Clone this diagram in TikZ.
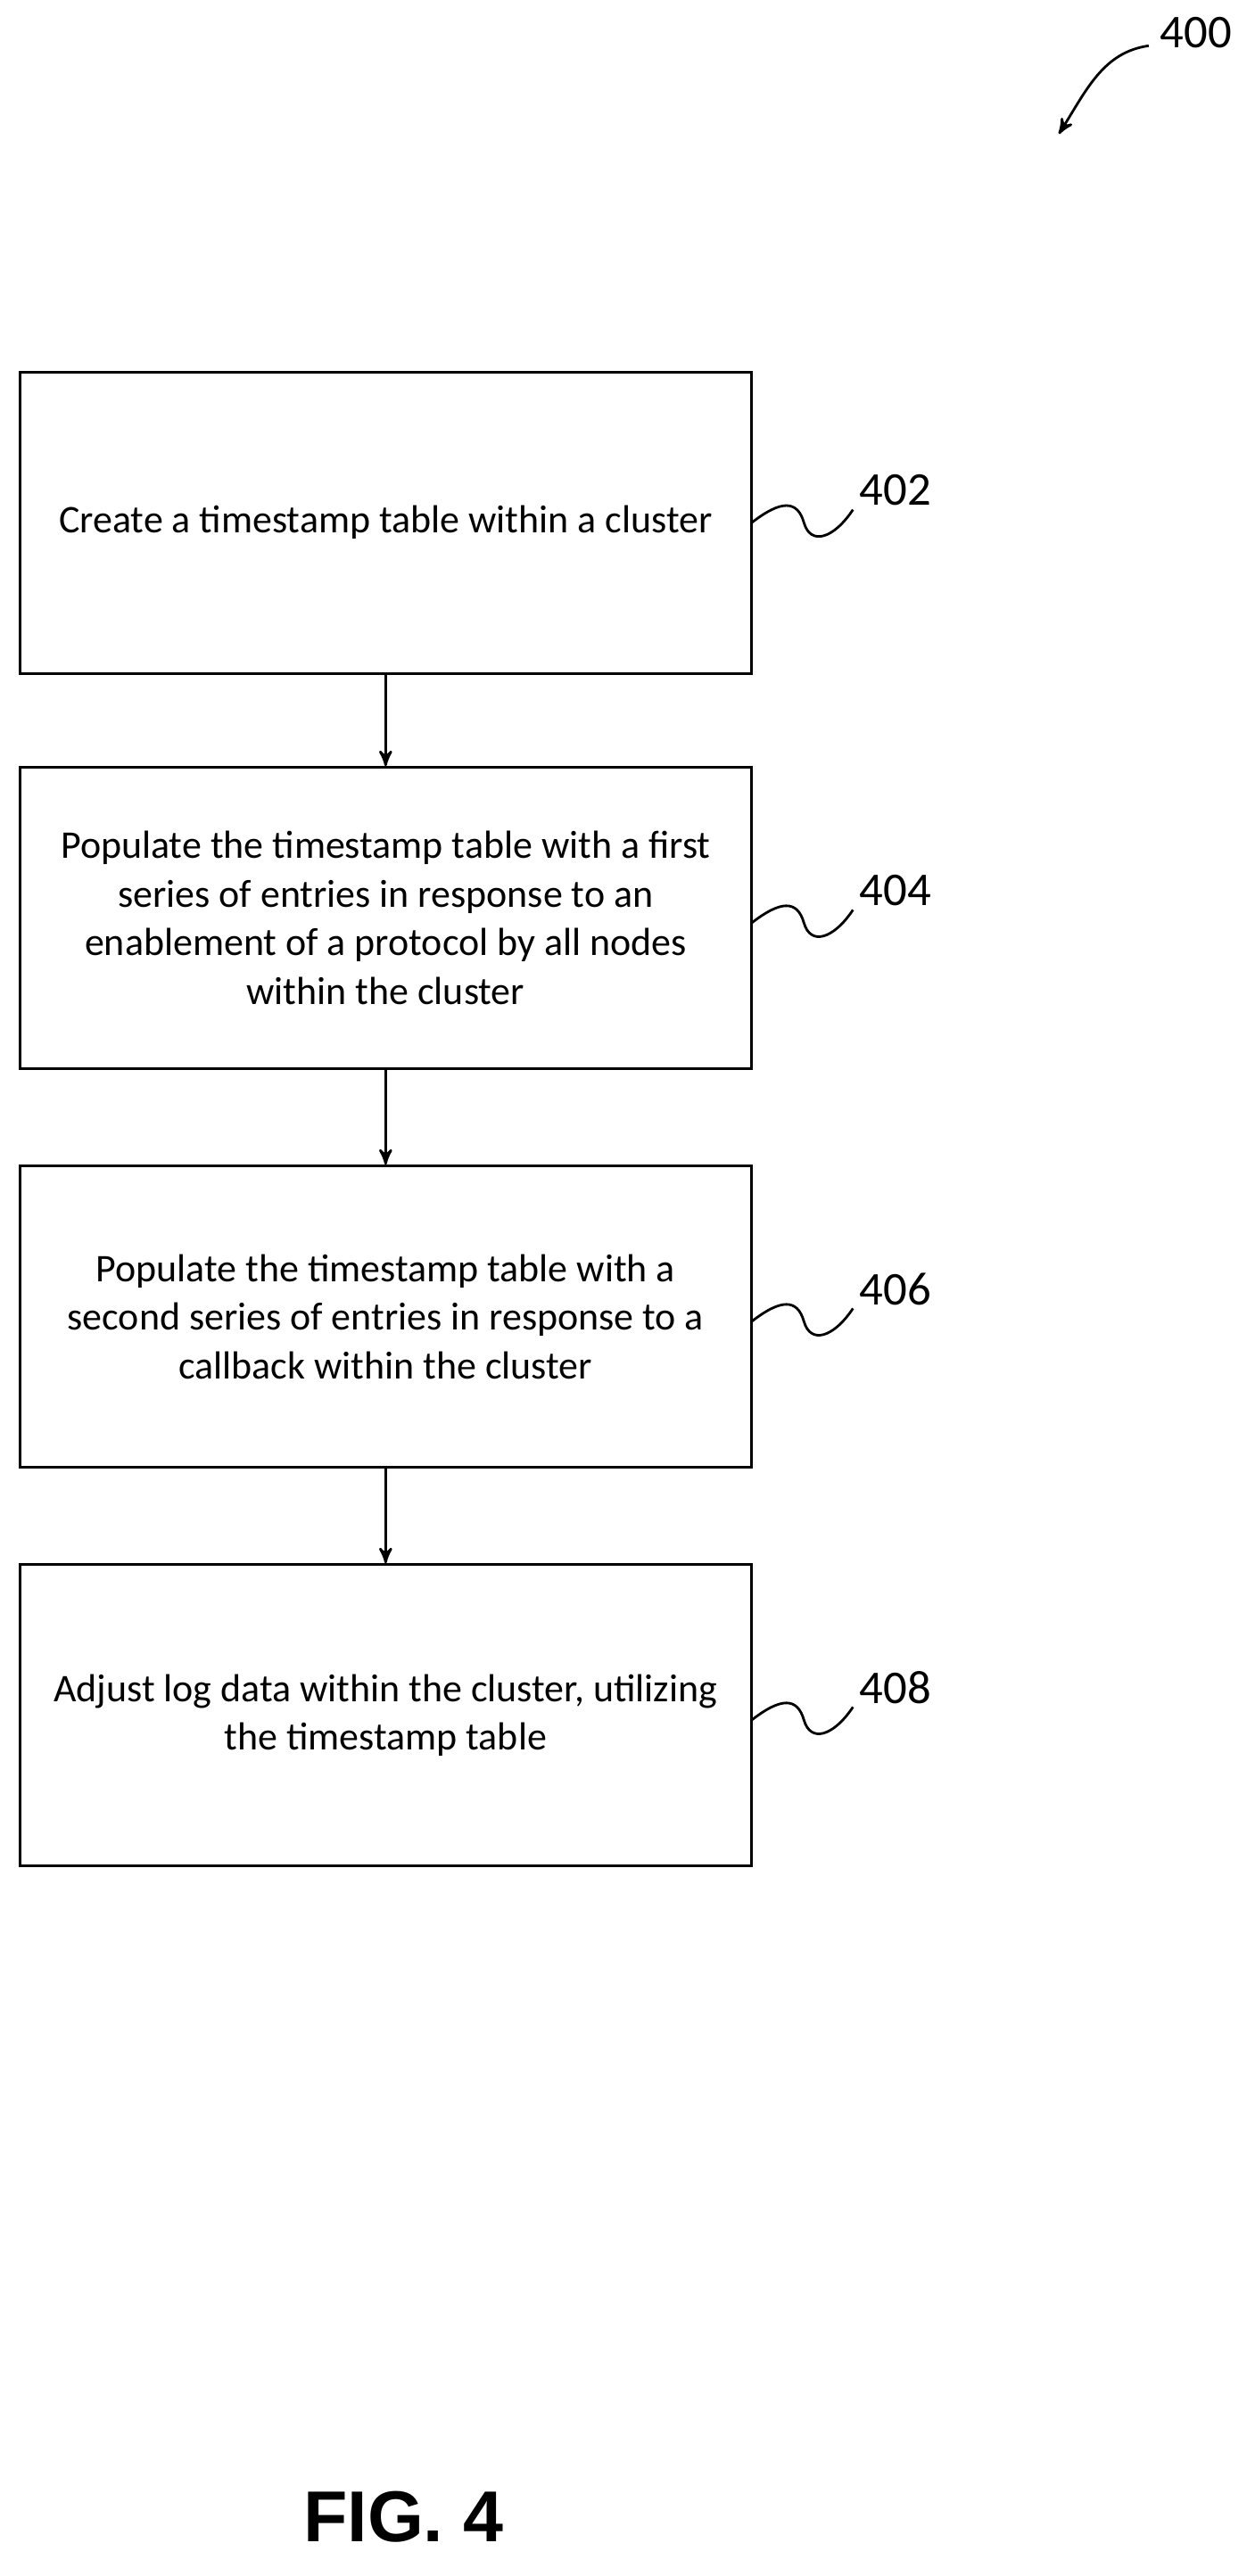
\documentclass[tikz,border=0pt]{standalone}
\usepackage{fontspec}
\setmainfont{Carlito}
\newfontfamily\figfont{Liberation Sans}
\usetikzlibrary{positioning, arrows}
\tikzset{
	x=0.01832cm, y=-0.01832cm,
	stepbox/.style={draw, thick, minimum width=8.2cm, minimum height=3.38cm, align=center, font=\fontsize{12.5}{15.5}\selectfont},
	flow/.style={->, >=stealth', thick},
	refnum/.style={font=\fontsize{15}{17}\selectfont},
	squig/.style={thick},
}
\begin{document}
\begin{tikzpicture}
	\useasboundingbox (0,0) rectangle (768,1577);
	% steps
	\node[stepbox] (create) at (236,320) {Create a timestamp table within a cluster};
	\node[stepbox] (first) at (236,562) {Populate the timestamp table with a first\\series of entries in response to an\\enablement of a protocol by all nodes\\within the cluster};
	\node[stepbox] (second) at (236,806) {Populate the timestamp table with a\\second series of entries in response to a\\callback within the cluster};
	\node[stepbox] (adjust) at (236,1050) {Adjust log data within the cluster, utilizing\\the timestamp table};
	\draw[flow] (create) -- (first);
	\draw[flow] (first) -- (second);
	\draw[flow] (second) -- (adjust);
	% reference numbers
	\foreach \n/\y in {402/320, 404/565, 406/809, 408/1053}{
		\node[refnum] (r\n) at (548,{\y-20}) {\n};
		\draw[squig] (460,\y) .. controls (478,{\y-14}) and (488,{\y-14}) .. (492,\y) .. controls (496,{\y+14}) and (510,{\y+10}) .. (522,{\y-8});
	}
	\node[refnum] (r400) at (732,20) {400};
	\coordinate (tip) at (648,82);
	\draw[flow] (703,28) .. controls (675,32) and (665,55) .. (tip);
	\node[font=\figfont\bfseries\fontsize{23}{27}\selectfont] (fig) at (247,1541) {FIG. 4};
\end{tikzpicture}
\end{document}
